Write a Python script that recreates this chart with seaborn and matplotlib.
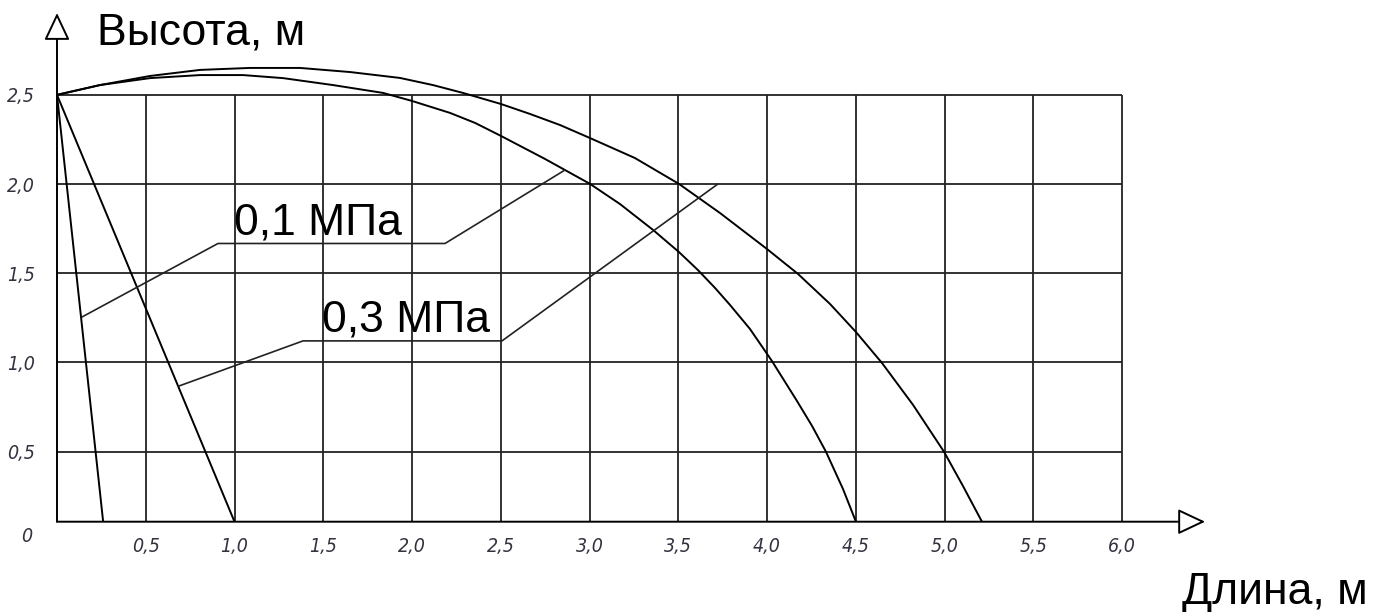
import numpy as np
import matplotlib
matplotlib.use("Agg")
import matplotlib.pyplot as plt
from matplotlib import font_manager
import seaborn as sns

# Сетка и подписи осей
x_ticks = [0.5, 1.0, 1.5, 2.0, 2.5, 3.0, 3.5, 4.0, 4.5, 5.0, 5.5, 6.0]
x_tick_labels = ["0,5", "1,0", "1,5", "2,0", "2,5", "3,0", "3,5", "4,0", "4,5", "5,0", "5,5", "6,0"]
y_ticks = [0.5, 1.0, 1.5, 2.0, 2.5]
y_tick_labels = ["0,5", "1,0", "1,5", "2,0", "2,5"]

# 0,1 МПа: крутая струя и дальняя траектория
steep_01_x = [0.0, 0.26]
steep_01_y = [2.5, 0.0]
arc_01_x = [0.0, 0.242, 0.524, 0.806, 1.048, 1.273, 1.555, 1.837, 2.0, 2.214, 2.355, 2.501,
            2.749, 3.003, 3.172, 3.358, 3.504, 3.611, 3.707, 3.792, 3.904, 4.028, 4.169,
            4.254, 4.332, 4.428, 4.501]
arc_01_y = [2.5, 2.555, 2.594, 2.611, 2.611, 2.594, 2.555, 2.511, 2.466, 2.399, 2.343, 2.270,
            2.141, 2.001, 1.888, 1.743, 1.619, 1.518, 1.418, 1.322, 1.188, 1.008, 0.784,
            0.644, 0.5, 0.234, 0.0]

# 0,3 МПа
steep_03_x = [0.0, 1.0]
steep_03_y = [2.5, 0.0]
arc_03_x = [0.0, 0.242, 0.524, 0.806, 1.087, 1.369, 1.651, 1.932, 2.118, 2.287, 2.501, 2.665,
            2.834, 3.003, 3.256, 3.504, 3.735, 4.0, 4.175, 4.355, 4.501, 4.648, 4.823, 4.997,
            5.104, 5.211]
arc_03_y = [2.5, 2.555, 2.606, 2.640, 2.651, 2.651, 2.628, 2.595, 2.555, 2.511, 2.449, 2.393,
            2.331, 2.258, 2.146, 2.001, 1.838, 1.636, 1.496, 1.328, 1.171, 0.997, 0.762, 0.5,
            0.255, 0.0]

# выноски к подписям
leader_01_x = [0.141, 0.907, 2.186, 2.862]
leader_01_y = [1.255, 1.667, 1.667, 2.079]
leader_03_x = [0.687, 1.386, 2.507, 3.724]
leader_03_y = [0.868, 1.121, 1.121, 2.001]

# нижний ряд сетки на чертеже короче остальных (70 px против 89)
K = 0.785


def fwd(y):
    y = np.asarray(y, dtype=float)
    return np.where(y < 0.5, y * K, y - 0.5 + 0.5 * K)


def inv(v):
    v = np.asarray(v, dtype=float)
    return np.where(v < 0.5 * K, v / K, v + 0.5 - 0.5 * K)


sns.set_theme(style="white")
plt.rcParams["font.family"] = ["Liberation Sans", "DejaVu Sans"]
plt.rcParams["text.color"] = "black"

installed = {f.name for f in font_manager.fontManager.ttflist}
if "Liberation Sans Narrow" in installed:
    tick_family, tick_stretch = "Liberation Sans Narrow", "normal"
else:
    tick_family, tick_stretch = "DejaVu Sans", "condensed"

W, H = 1376, 612
fig = plt.figure(figsize=(W / 100, H / 100), dpi=100)
ax_h = (3.0 - 0.5 + 0.5 * K) * 178.4
ax = fig.add_axes([57 / W, (H - 521.7) / H, 6.5 * 177.5 / W, ax_h / H])

grid_kw = dict(color="#222222", lw=1.3, zorder=1)
ax.hlines(y_ticks, 0, x_ticks[-1], **grid_kw)
ax.vlines(x_ticks, 0, y_ticks[-1], **grid_kw)

line_kw = dict(ax=ax, color="black", lw=1.4, sort=False, estimator=None, zorder=3)
sns.lineplot(x=steep_01_x, y=steep_01_y, **line_kw)
sns.lineplot(x=arc_01_x, y=arc_01_y, **line_kw)
sns.lineplot(x=steep_03_x, y=steep_03_y, **line_kw)
sns.lineplot(x=arc_03_x, y=arc_03_y, **line_kw)

leader_kw = dict(ax=ax, color="#222222", lw=1.2, sort=False, estimator=None, zorder=3)
sns.lineplot(x=leader_01_x, y=leader_01_y, **leader_kw)
sns.lineplot(x=leader_03_x, y=leader_03_y, **leader_kw)

ax.text(1.0, 1.715, "0,1 МПа", fontsize=32, va="baseline", ha="left", color="black")
ax.text(1.492, 1.171, "0,3 МПа", fontsize=32, va="baseline", ha="left", color="black")

ax.set_yscale("function", functions=(fwd, inv))
ax.set_xlim(0, 6.5)
ax.set_ylim(0, 3.0)

for s in ax.spines.values():
    s.set_visible(False)

# оси со стрелками
arrow_kw = dict(arrowstyle="-|>,head_length=1.7,head_width=0.8", mutation_scale=10,
                fc="white", ec="black", lw=1.4, shrinkA=0, shrinkB=0)
ax.annotate("", xy=(6.468, 0), xytext=(0, 0), arrowprops=arrow_kw, annotation_clip=False)
ax.annotate("", xy=(0, 2.959), xytext=(0, 0), arrowprops=arrow_kw, annotation_clip=False)

ax.set_xticks(x_ticks, x_tick_labels)
ax.set_yticks(y_ticks, y_tick_labels)
ax.tick_params(axis="x", length=0, pad=11, colors="#333340")
ax.tick_params(axis="y", length=0, pad=16, colors="#333340")
for lab in ax.get_xticklabels() + ax.get_yticklabels():
    lab.set_fontfamily(tick_family)
    lab.set_fontstretch(tick_stretch)
    lab.set_fontstyle("italic")
    lab.set_fontsize(14)
ax.annotate("0", xy=(0, 0), xytext=(-30, -15), textcoords="offset pixels",
            ha="center", va="center", color="#333340", annotation_clip=False,
            family=tick_family, fontstretch=tick_stretch, style="italic", size=14)

fig.text(97 / W, (H - 45) / H, "Высота, м", fontsize=32, va="baseline", ha="left", color="black")
fig.text(1182 / W, (H - 604) / H, "Длина, м", fontsize=32, va="baseline", ha="left", color="black")

fig.savefig("out.png", dpi=100)
